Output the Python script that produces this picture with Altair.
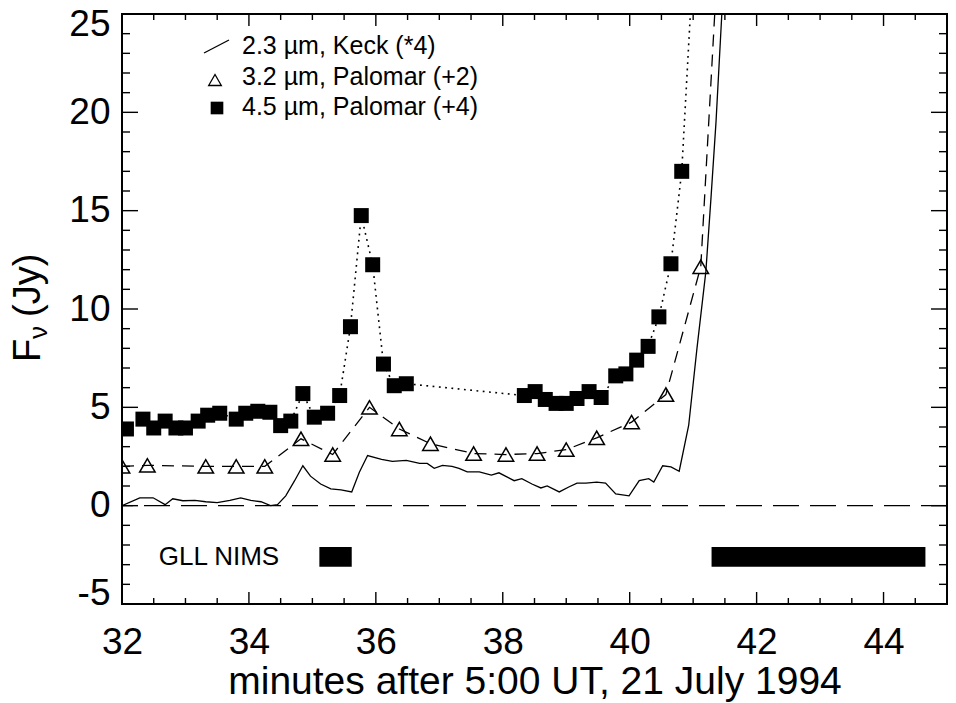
import altair as alt
import pandas as pd

# ---------------- data ----------------
# 2.3 micron, Keck (*4)  -- solid line
t23 = [32.0, 32.28, 32.49, 32.68, 32.8, 32.96, 33.15, 33.32, 33.5, 33.7, 33.87, 34.03,
       34.19, 34.34, 34.45, 34.58, 34.72, 34.85, 34.97, 35.13, 35.29, 35.45, 35.62, 35.74,
       35.87, 36.09, 36.26, 36.48, 36.69, 36.81, 36.92, 37.05, 37.2, 37.31, 37.44, 37.63,
       37.82, 37.94, 38.18, 38.3, 38.46, 38.6, 38.7, 38.89, 39.04, 39.17, 39.31, 39.48,
       39.62, 39.78, 39.99, 40.15, 40.3, 40.38, 40.52, 40.65, 40.78, 40.93, 41.06, 41.2,
       41.28, 41.36, 41.45, 41.52]
f23 = [0.0, 0.4, 0.4, 0.05, 0.35, 0.25, 0.27, 0.2, 0.15, 0.27, 0.4, 0.27,
       0.2, 0.0, 0.05, 0.5, 1.27, 2.03, 1.5, 1.1, 0.85, 0.8, 0.7, 1.7,
       2.55, 2.35, 2.25, 2.3, 2.15, 2.15, 1.9, 2.05, 2.0, 1.9, 1.72, 1.72,
       1.55, 1.67, 1.27, 1.37, 1.1, 0.9, 1.0, 0.7, 0.95, 1.15, 1.15, 1.2,
       1.15, 0.6, 0.5, 1.27, 1.37, 1.2, 2.03, 1.97, 1.75, 4.1, 8.0, 11.9,
       15.6, 19.5, 24.9, 29.0]

# 3.2 micron, Palomar (+2) -- open triangles, dashed
t32 = [32.0, 32.4, 33.32, 33.8, 34.25, 34.82, 35.32, 35.9, 36.37, 36.86, 37.54, 38.05,
       38.54, 39.0, 39.48, 40.03, 40.57, 41.12, 41.66]
f32 = [2.0, 2.05, 2.0, 2.0, 2.0, 3.4, 2.6, 5.0, 3.9, 3.15, 2.65, 2.6,
       2.65, 2.85, 3.45, 4.25, 5.65, 12.15, 43.7]

# 4.5 micron, Palomar (+4) -- filled squares, dotted
t45 = [32.07, 32.33, 32.5, 32.68, 32.85, 33.0, 33.2, 33.35, 33.54, 33.8, 33.95, 34.14,
       34.33, 34.5, 34.66, 34.85, 35.03, 35.24, 35.43, 35.6, 35.77, 35.95, 36.12, 36.29,
       36.48, 38.34, 38.51, 38.67, 38.84, 39.0, 39.17, 39.36, 39.55, 39.78, 39.94, 40.11,
       40.29, 40.46, 40.65, 40.82, 40.99]
f45 = [3.9, 4.4, 3.95, 4.3, 3.95, 3.95, 4.3, 4.6, 4.7, 4.4, 4.7, 4.8,
       4.75, 4.07, 4.3, 5.7, 4.5, 4.7, 5.6, 9.1, 14.75, 12.25, 7.2, 6.1,
       6.2, 5.6, 5.8, 5.4, 5.2, 5.2, 5.45, 5.8, 5.5, 6.6, 6.7, 7.4,
       8.1, 9.6, 12.3, 17.0, 27.0]

# Galileo NIMS observation windows
nims_start = [35.11, 41.29]
nims_end = [35.62, 44.66]
nims_low = [-3.1, -3.1]
nims_high = [-2.1, -2.1]
nims_label = "GLL NIMS"

zero_level = [0]

x_ticks = [32, 34, 36, 38, 40, 42, 44]
x_minor = [32.5, 33, 33.5, 34.5, 35, 35.5, 36.5, 37, 37.5, 38.5, 39, 39.5,
           40.5, 41, 41.5, 42.5, 43, 43.5, 44.5]
y_ticks = [-5, 0, 5, 10, 15, 20, 25]
y_minor = [-4, -3, -2, -1, 1, 2, 3, 4, 6, 7, 8, 9, 11, 12, 13, 14,
           16, 17, 18, 19, 21, 22, 23, 24]

legend_labels = ["2.3 \u00b5m, Keck (*4)", "3.2 \u00b5m, Palomar (+2)", "4.5 \u00b5m, Palomar (+4)"]
x_title = "minutes after 5:00 UT, 21 July 1994"

# ---------------- chart ----------------
W, H = 825, 590
FONT = "Liberation Sans"

xs = alt.Scale(domain=[32, 45], nice=False, zero=False)
ys = alt.Scale(domain=[-5, 25], nice=False, zero=False)

x_axis = alt.Axis(values=x_ticks, labelExpr="'' + datum.value", ticks=False, domain=False, grid=False,
                  labelFlush=False, labelPadding=20, labelFontSize=37, labelFont=FONT,
                  labelColor="black", title=x_title, titleFont=FONT, titleFontSize=39,
                  titleFontWeight="normal", titleColor="black", titleBaseline="alphabetic",
                  titleY=89, titleX=W / 2)
y_axis = alt.Axis(values=y_ticks, labelExpr="'' + datum.value", ticks=False, domain=False, grid=False,
                  labelFlush=True, labelFlushOffset=8, labelPadding=12, labelFontSize=37,
                  labelFont=FONT, labelColor="black", title="")


def X(field):
    return alt.X(field, type="quantitative", scale=xs, axis=x_axis)


def Y(field):
    return alt.Y(field, type="quantitative", scale=ys, axis=y_axis)


df23 = pd.DataFrame({"t": t23, "f": f23})
df32 = pd.DataFrame({"t": t32, "f": f32})
df45 = pd.DataFrame({"t": t45, "f": f45})
dfn = pd.DataFrame({"s": nims_start, "e": nims_end, "lo": nims_low, "hi": nims_high})
dfz = pd.DataFrame({"v": zero_level})
one = pd.DataFrame({"a": [0]})

zero = alt.Chart(dfz).mark_rule(color="black", strokeWidth=1.3, strokeDash=[26, 11]).encode(y=Y("v"))

nims = alt.Chart(dfn).mark_rect(color="black").encode(
    x=X("s"), x2="e", y=Y("lo"), y2="hi")
nims_text = alt.Chart(one).mark_text(text=nims_label, font=FONT, fontSize=26, align="left",
                                     baseline="middle", color="black").encode(
    x=alt.datum(32.58, scale=xs), y=alt.datum(-2.6, scale=ys))

line23 = alt.Chart(df23).mark_line(color="black", strokeWidth=1.3, clip=True).encode(
    x=X("t"), y=Y("f"))
line32 = alt.Chart(df32).mark_line(color="black", strokeWidth=1.3, strokeDash=[12, 8], clip=True).encode(
    x=X("t"), y=Y("f"))
pts32 = alt.Chart(df32).mark_point(shape="triangle-up", size=240, filled=False, color="black",
                                   strokeWidth=1.5, opacity=1, clip=True).encode(x=X("t"), y=Y("f"))
line45 = alt.Chart(df45).mark_line(color="black", strokeWidth=1.6, strokeDash=[1.8, 4.5], clip=True).encode(
    x=X("t"), y=Y("f"))
pts45 = alt.Chart(df45).mark_point(shape="square", size=225, filled=True, color="black",
                                   opacity=1, clip=True).encode(x=X("t"), y=Y("f"))

# inward ticks on all four sides
dxM = pd.DataFrame({"v": x_ticks})
dxm = pd.DataFrame({"v": x_minor})
dyM = pd.DataFrame({"v": y_ticks})
dym = pd.DataFrame({"v": y_minor})
tk = dict(color="black", strokeWidth=1.4)
ticks = [
    alt.Chart(dxM).mark_rule(**tk).encode(x=X("v"), y=alt.value(H), y2=alt.value(H - 12)),
    alt.Chart(dxm).mark_rule(**tk).encode(x=X("v"), y=alt.value(H), y2=alt.value(H - 6)),
    alt.Chart(dxM).mark_rule(**tk).encode(x=X("v"), y=alt.value(0), y2=alt.value(12)),
    alt.Chart(dxm).mark_rule(**tk).encode(x=X("v"), y=alt.value(0), y2=alt.value(6)),
    alt.Chart(dyM).mark_rule(**tk).encode(y=Y("v"), x=alt.value(0), x2=alt.value(16)),
    alt.Chart(dym).mark_rule(**tk).encode(y=Y("v"), x=alt.value(0), x2=alt.value(8)),
    alt.Chart(dyM).mark_rule(**tk).encode(y=Y("v"), x=alt.value(W), x2=alt.value(W - 16)),
    alt.Chart(dym).mark_rule(**tk).encode(y=Y("v"), x=alt.value(W), x2=alt.value(W - 8)),
]

# legend (drawn by hand, as in the original figure)
lg_line = alt.Chart(one).mark_rule(color="black", strokeWidth=1.3).encode(
    x=alt.value(82), y=alt.value(39), x2=alt.value(107), y2=alt.value(26))
lg_tri = alt.Chart(one).mark_point(shape="triangle-up", size=160, filled=False, color="black",
                                   strokeWidth=1.3, opacity=1).encode(x=alt.value(93), y=alt.value(66))
lg_sq = alt.Chart(one).mark_point(shape="square", size=160, filled=True, color="black",
                                  opacity=1).encode(x=alt.value(95), y=alt.value(94))
lg_texts = [
    alt.Chart(one).mark_text(text=lab, font=FONT, fontSize=25, align="left", baseline="middle",
                             color="black").encode(x=alt.value(120), y=alt.value(yy))
    for lab, yy in zip(legend_labels, [32, 63, 93])
]

# y-axis title with subscript nu
yt = dict(font=FONT, angle=270, align="left", baseline="alphabetic", color="black")
ytitle = [
    alt.Chart(one).mark_text(text="F", fontSize=38, **yt).encode(x=alt.value(-82), y=alt.value(348)),
    alt.Chart(one).mark_text(text="\u03bd", fontSize=26, **yt).encode(x=alt.value(-75), y=alt.value(325)),
    alt.Chart(one).mark_text(text="(Jy)", fontSize=38, **yt).encode(x=alt.value(-82), y=alt.value(303)),
]

chart = alt.layer(
    zero, nims, nims_text, line23, line32, pts32, line45, pts45,
    *ticks, lg_line, lg_tri, lg_sq, *lg_texts, *ytitle
).properties(
    width=W, height=H,
    padding={"left": 122, "top": 14, "right": 9, "bottom": 99},
    autosize=alt.AutoSizeParams(type="none"),
    background="white",
).configure_view(stroke="black", strokeWidth=2)

chart.save("out.html", embed_options={"renderer": "svg", "actions": False})
